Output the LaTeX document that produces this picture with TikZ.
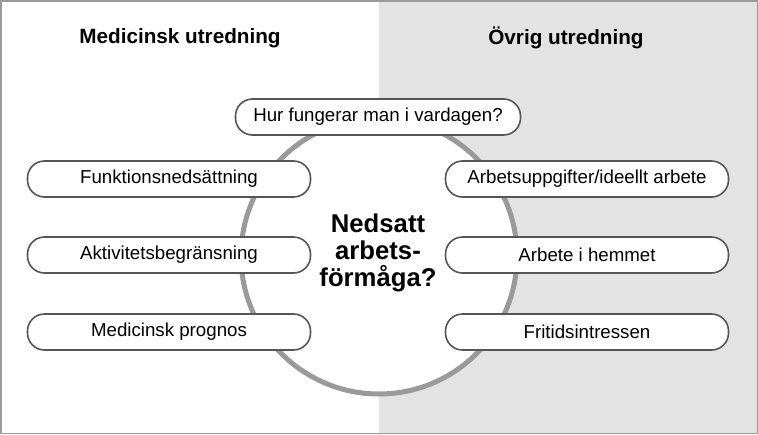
\documentclass[tikz,border=0pt]{standalone}
\usepackage{fontspec}
\setmainfont{Liberation Sans}
\usepackage{tikz}
\usetikzlibrary{positioning}
\definecolor{panelgray}{HTML}{E3E3E3}
\definecolor{ringgray}{HTML}{9A9A9A}
\definecolor{pillline}{HTML}{555555}
\tikzset{
  pill/.style={draw=pillline,line width=1.6pt,fill=white,rounded corners=17pt,minimum width=283pt,minimum height=36pt,font=\fontsize{18.7}{20}\selectfont},
  header/.style={font=\fontsize{20.7}{22}\selectfont\bfseries}
}
\begin{document}
\begin{tikzpicture}[x=1pt,y=-1pt]
    \useasboundingbox (0,0) rectangle (758,434);
    \fill[panelgray] (379,0) rectangle (758,434);
    \draw[ringgray,line width=1.5pt] (0.75,0.75) rectangle (757.25,433.25);
    \draw[ringgray,line width=5pt,fill=white] (379,256) circle (138);
    \node[header] (medhead) at (180,38) {Medicinsk utredning};
    \node[header] (ovrhead) at (566,38) {Övrig utredning};
    \node[pill,minimum width=285pt] (vardag) at (378,117) {Hur fungerar man i vardagen?};
    \node[pill] (funk) at (169,179) {Funktionsnedsättning};
    \node[pill] (aktiv) at (169,255) {Aktivitetsbegränsning};
    \node[pill] (prog) at (169,332) {Medicinsk prognos};
    \node[pill] (arbupp) at (587,179) {Arbetsuppgifter/ideellt arbete};
    \node[pill] (hemmet) at (587,255) {Arbete i hemmet};
    \node[pill] (fritid) at (587,332) {Fritidsintressen};
    \node[font=\fontsize{25.7}{27}\selectfont\bfseries,align=center] (center) at (378,253) {Nedsatt\\arbets-\\förmåga?};
\end{tikzpicture}
\end{document}
